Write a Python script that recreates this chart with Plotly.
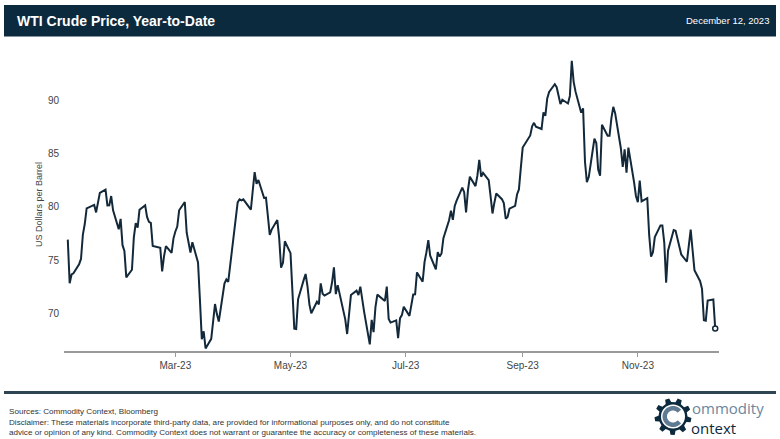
import math
import plotly.graph_objects as go

# ---------------- data ----------------
dates = [
    "2023-01-03","2023-01-04","2023-01-05","2023-01-06","2023-01-09","2023-01-10","2023-01-11","2023-01-12","2023-01-13",
    "2023-01-17","2023-01-18","2023-01-19","2023-01-20","2023-01-23","2023-01-24","2023-01-25","2023-01-26","2023-01-27",
    "2023-01-30","2023-01-31","2023-02-01","2023-02-02","2023-02-03","2023-02-06","2023-02-07","2023-02-08","2023-02-09",
    "2023-02-10","2023-02-13","2023-02-14","2023-02-15","2023-02-16","2023-02-17","2023-02-21","2023-02-22","2023-02-23",
    "2023-02-24","2023-02-27","2023-02-28","2023-03-01","2023-03-02","2023-03-03","2023-03-06","2023-03-07","2023-03-08",
    "2023-03-09","2023-03-10","2023-03-13","2023-03-14","2023-03-15","2023-03-16","2023-03-17","2023-03-20","2023-03-21",
    "2023-03-22","2023-03-23","2023-03-24","2023-03-27","2023-03-28","2023-03-29","2023-03-30","2023-03-31","2023-04-03",
    "2023-04-04","2023-04-05","2023-04-06","2023-04-10","2023-04-11","2023-04-12","2023-04-13","2023-04-14","2023-04-17",
    "2023-04-18","2023-04-19","2023-04-20","2023-04-21","2023-04-24","2023-04-25","2023-04-26","2023-04-27","2023-04-28",
    "2023-05-01","2023-05-02","2023-05-03","2023-05-04","2023-05-05","2023-05-08","2023-05-09","2023-05-10","2023-05-11",
    "2023-05-12","2023-05-15","2023-05-16","2023-05-17","2023-05-18","2023-05-19","2023-05-22","2023-05-23","2023-05-24",
    "2023-05-25","2023-05-26","2023-05-30","2023-05-31","2023-06-01","2023-06-02","2023-06-05","2023-06-06","2023-06-07",
    "2023-06-08","2023-06-09","2023-06-12","2023-06-13","2023-06-14","2023-06-15","2023-06-16","2023-06-20","2023-06-21",
    "2023-06-22","2023-06-23","2023-06-26","2023-06-27","2023-06-28","2023-06-29","2023-06-30","2023-07-03","2023-07-05",
    "2023-07-06","2023-07-07","2023-07-10","2023-07-11","2023-07-12","2023-07-13","2023-07-14","2023-07-17","2023-07-18",
    "2023-07-19","2023-07-20","2023-07-21","2023-07-24","2023-07-25","2023-07-26","2023-07-27","2023-07-28","2023-07-31",
    "2023-08-01","2023-08-02","2023-08-03","2023-08-04","2023-08-07","2023-08-08","2023-08-09","2023-08-10","2023-08-11",
    "2023-08-14","2023-08-15","2023-08-16","2023-08-17","2023-08-18","2023-08-21","2023-08-22","2023-08-23","2023-08-24",
    "2023-08-25","2023-08-28","2023-08-29","2023-08-30","2023-08-31","2023-09-01","2023-09-05","2023-09-06","2023-09-07",
    "2023-09-08","2023-09-11","2023-09-12","2023-09-13","2023-09-14","2023-09-15","2023-09-18","2023-09-19","2023-09-20",
    "2023-09-21","2023-09-22","2023-09-25","2023-09-26","2023-09-27","2023-09-28","2023-09-29","2023-10-02","2023-10-03",
    "2023-10-04","2023-10-05","2023-10-06","2023-10-09","2023-10-10","2023-10-11","2023-10-12","2023-10-13","2023-10-16",
    "2023-10-17","2023-10-18","2023-10-19","2023-10-20","2023-10-23","2023-10-24","2023-10-25","2023-10-26","2023-10-27",
    "2023-10-30","2023-10-31","2023-11-01","2023-11-02","2023-11-03","2023-11-06","2023-11-07","2023-11-08","2023-11-09",
    "2023-11-10","2023-11-13","2023-11-14","2023-11-15","2023-11-16","2023-11-17","2023-11-20","2023-11-21","2023-11-22",
    "2023-11-24","2023-11-27","2023-11-28","2023-11-29","2023-11-30","2023-12-01","2023-12-04","2023-12-05","2023-12-06",
    "2023-12-07","2023-12-08","2023-12-11","2023-12-12",
]

wti_price = [
    76.93, 72.84, 73.67, 73.77, 74.63, 75.12, 77.41, 78.39, 79.86,
    80.18, 79.48, 80.33, 81.31, 81.62, 80.13, 80.15, 81.01, 79.68,
    77.90, 78.87, 76.41, 75.88, 73.39, 74.11, 77.14, 78.47, 78.06,
    79.72, 80.14, 79.06, 78.59, 78.49, 76.34, 76.16, 73.95, 75.39,
    76.32, 75.68, 77.05, 77.69, 78.16, 79.68, 80.46, 77.58, 76.66,
    75.72, 76.68, 74.80, 71.33, 67.61, 68.35, 66.74, 67.64, 69.33,
    70.90, 69.96, 69.26, 72.81, 73.20, 72.97, 74.37, 75.67, 80.42,
    80.71, 80.61, 80.70, 79.74, 81.53, 83.26, 82.16, 82.52, 80.83,
    80.86, 79.16, 77.37, 77.87, 78.76, 77.07, 74.30, 74.76, 76.78,
    75.66, 71.66, 68.60, 68.56, 71.34, 73.16, 73.71, 72.56, 70.87,
    70.04, 71.11, 70.86, 72.83, 71.86, 71.69, 71.99, 72.91, 74.34,
    71.83, 72.67, 69.46, 68.09, 70.10, 71.74, 72.15, 71.74, 72.53,
    71.29, 70.17, 67.12, 69.42, 68.27, 70.62, 71.78, 71.19, 72.53,
    69.51, 69.16, 69.37, 67.70, 69.56, 69.86, 70.64, 69.79, 71.79,
    71.80, 73.86, 72.99, 74.83, 75.75, 76.89, 75.42, 74.15, 75.75,
    75.35, 75.63, 77.07, 78.74, 79.63, 78.78, 80.09, 80.58, 81.80,
    81.37, 79.49, 81.55, 82.82, 81.94, 82.92, 84.40, 82.82, 83.19,
    82.51, 80.99, 79.38, 80.39, 81.25, 80.72, 80.35, 78.89, 79.05,
    79.83, 80.10, 81.16, 81.63, 83.63, 85.55, 86.69, 87.54, 87.87,
    87.51, 87.29, 88.84, 88.52, 90.16, 90.77, 91.48, 91.20, 90.28,
    89.63, 90.03, 89.68, 90.39, 93.68, 91.71, 90.79, 88.82, 89.23,
    84.22, 82.31, 82.79, 86.38, 85.97, 83.49, 82.91, 87.69, 86.66,
    86.66, 88.32, 89.37, 88.75, 85.49, 83.74, 85.39, 83.21, 85.54,
    82.31, 81.02, 80.44, 82.46, 80.51, 80.82, 77.37, 75.33, 75.74,
    77.17, 78.26, 78.26, 76.66, 72.90, 75.89, 77.83, 77.77, 77.10,
    75.54, 74.86, 76.41, 77.86, 75.96, 74.07, 73.04, 72.32, 69.38,
    69.34, 71.23, 71.32, 68.61,
]

x_tick_values = ["2023-03-01", "2023-05-01", "2023-07-01", "2023-09-01", "2023-11-01"]
x_tick_labels = ["Mar-23", "May-23", "Jul-23", "Sep-23", "Nov-23"]
y_tick_values = [70, 75, 80, 85, 90]

title_text = "WTI Crude Price, Year-to-Date"
date_text = "December 12, 2023"
y_title = "US Dollars per Barrel"
source_text = "Sources: Commodity Context, Bloomberg"
disclaimer_text = ("Disclaimer: These materials incorporate third-party data, are provided for informational purposes only, and do not constitute<br>"
                   "advice or opinion of any kind. Commodity Context does not warrant or guarantee the accuracy or completeness of these materials.")

# ---------------- layout geometry (pixels) ----------------
W, H = 780, 439
L, R, T, B = 64, 61, 50, 88
PW = W - L - R
PH = H - T - B

NAVY = "#0c2a3d"
LINE = "#13293a"
SLATE = "#5f7b93"
FONT = "Liberation Sans, Arial, sans-serif"


def px(x):
    return (x - L) / PW


def py(y):
    return (H - B - y) / PH


def poly_path(points):
    return "M " + " L ".join(f"{px(x):.5f},{py(y):.5f}" for x, y in points) + " Z"


fig = go.Figure()
fig.add_trace(go.Scatter(
    x=dates, y=wti_price, mode="lines",
    line=dict(color=LINE, width=2),
    hoverinfo="x+y", showlegend=False,
))
fig.add_trace(go.Scatter(
    x=[dates[-1]], y=[wti_price[-1]], mode="markers",
    marker=dict(size=5, color="white", line=dict(color=LINE, width=1.5)),
    showlegend=False,
))

shapes = []
# header bar
shapes.append(dict(type="rect", xref="paper", yref="paper",
                   x0=px(4), x1=px(776), y0=py(36.5), y1=py(5),
                   fillcolor=NAVY, line=dict(width=0), layer="below"))
# footer rule
shapes.append(dict(type="rect", xref="paper", yref="paper",
                   x0=px(4), x1=px(776), y0=py(394), y1=py(391),
                   fillcolor="#2f4553", line=dict(width=0)))

# gear logo (decoration)
cx, cy = 673, 416.5
r_out, r_in, n_teeth = 18.5, 14.5, 9
step = 2 * math.pi / n_teeth
gear = []
for k in range(n_teeth):
    base = step * k
    for frac, rr in [(0.0, r_in), (0.12, r_out), (0.45, r_out), (0.57, r_in)]:
        a = base + frac * step
        gear.append((cx + rr * math.cos(a), cy + rr * math.sin(a)))
shapes.append(dict(type="path", xref="paper", yref="paper", path=poly_path(gear),
                   fillcolor=NAVY, line=dict(width=0)))
shapes.append(dict(type="circle", xref="paper", yref="paper",
                   x0=px(cx - 12), x1=px(cx + 12), y0=py(cy + 12), y1=py(cy - 12),
                   fillcolor="white", line=dict(width=0)))
# the "C" ring inside the gear
c_outer, c_inner = 10.5, 6.0
a0, a1 = math.radians(40), math.radians(320)
n = 40
ring = [(cx + c_outer * math.cos(a0 + (a1 - a0) * i / n), cy - c_outer * math.sin(a0 + (a1 - a0) * i / n)) for i in range(n + 1)]
ring += [(cx + c_inner * math.cos(a1 - (a1 - a0) * i / n), cy - c_inner * math.sin(a1 - (a1 - a0) * i / n)) for i in range(n + 1)]
shapes.append(dict(type="path", xref="paper", yref="paper", path=poly_path(ring),
                   fillcolor=SLATE, line=dict(width=0)))

annotations = [
    dict(text=f"<b>{title_text}</b>", xref="paper", yref="paper", x=px(15), y=py(21),
         xanchor="left", yanchor="middle", showarrow=False,
         font=dict(family=FONT, size=14, color="white")),
    dict(text=date_text, xref="paper", yref="paper", x=px(771), y=py(21),
         xanchor="right", yanchor="middle", showarrow=False,
         font=dict(family=FONT, size=9.5, color="white")),
    dict(text=y_title, xref="paper", yref="paper", x=px(39), y=py(205),
         xanchor="center", yanchor="middle", textangle=-90, showarrow=False,
         font=dict(family=FONT, size=9, color="#444444")),
    dict(text=source_text + "<br>" + disclaimer_text, xref="paper", yref="paper",
         x=px(7), y=py(405), xanchor="left", yanchor="top", align="left", showarrow=False,
         font=dict(family=FONT, size=8.1, color="#333333")),
    dict(text="ommodity", xref="paper", yref="paper", x=px(690), y=py(408),
         xanchor="left", yanchor="middle", showarrow=False,
         font=dict(family="Open Sans, sans-serif", size=15, color="#6a86a0")),
    dict(text="ontext", xref="paper", yref="paper", x=px(689), y=py(428),
         xanchor="left", yanchor="middle", showarrow=False,
         font=dict(family="Open Sans, sans-serif", size=15, color=NAVY)),
]

fig.update_layout(
    width=W, height=H,
    margin=dict(l=L, r=R, t=T, b=B, pad=0),
    paper_bgcolor="white", plot_bgcolor="white",
    shapes=shapes, annotations=annotations,
    showlegend=False,
    xaxis=dict(
        type="date", range=["2023-01-01", "2023-12-14"],
        tickvals=x_tick_values, ticktext=x_tick_labels,
        showgrid=False, zeroline=False,
        showline=True, linecolor="#9a9a9a", linewidth=1.5,
        ticks="outside", ticklen=4, tickcolor="#9a9a9a", tickwidth=1,
        tickfont=dict(family=FONT, size=10, color="#444444"),
    ),
    yaxis=dict(
        range=[66.5, 94.69],
        tickvals=y_tick_values,
        showgrid=False, zeroline=False, showline=False,
        ticks="", ticklabelstandoff=4,
        tickfont=dict(family=FONT, size=10, color="#444444"),
    ),
)

fig.write_html(
    "out.html",
    config={"displayModeBar": False},
    post_script="document.body.style.margin='0';document.body.style.padding='0';document.body.style.overflow='hidden';",
)
